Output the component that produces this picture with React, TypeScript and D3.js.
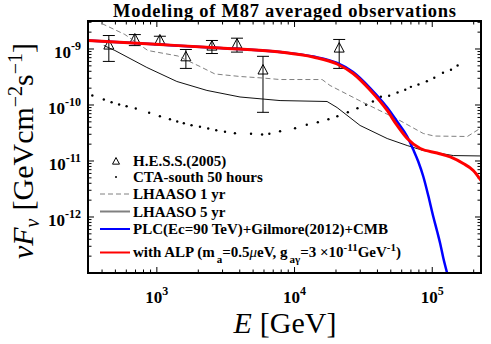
import React from 'react';
import * as d3 from 'd3';

const WIDTH = 491;
const HEIGHT = 344;
const margin = { top: 21, right: 10, bottom: 71, left: 88 };
const innerW = WIDTH - margin.left - margin.right;
const innerH = HEIGHT - margin.top - margin.bottom;

// H.E.S.S. (2005) averaged points, GeV and GeV cm^-2 s^-1
const hessE = [448, 692, 1052, 1625, 2512, 3820, 5900, 21100];
const hessF = [1.2e-9, 1.54e-9, 1.48e-9, 7.4e-10, 1.15e-9, 1.25e-9, 4.3e-10, 1.06e-9];
const hessHi = [1.74e-9, 1.81e-9, 1.69e-9, 9.8e-10, 1.42e-9, 1.56e-9, 7.4e-10, 1.48e-9];
const hessLo = [6.0e-10, 1.15e-9, 1.19e-9, 4.5e-10, 8.3e-10, 8.8e-10, 7.4e-11, 4.5e-10];

// CTA-south 50 hours sensitivity (dots)
const ctaE = [340, 412, 469, 532, 603, 703, 879, 1052, 1245, 1406, 1570, 1786, 2056, 2360, 2700, 3126, 3690, 4830, 5810, 6560, 7850, 10090, 12270, 14760, 17620, 20460, 24380, 28640, 33110, 37070, 42360, 48640, 55980, 63680, 69980, 79430, 91410, 103500, 119700, 136800, 152800];
const ctaF = [1.48e-10, 1.25e-10, 1.12e-10, 1.02e-10, 9.5e-11, 8.66e-11, 7.26e-11, 6.31e-11, 5.57e-11, 5.07e-11, 4.73e-11, 4.36e-11, 4.08e-11, 3.8e-11, 3.55e-11, 3.32e-11, 3.13e-11, 3.06e-11, 2.97e-11, 3.06e-11, 3.4e-11, 3.85e-11, 4.43e-11, 4.93e-11, 5.57e-11, 6.31e-11, 7.43e-11, 8.77e-11, 1.01e-10, 1.155e-10, 1.4e-10, 1.46e-10, 1.67e-10, 1.87e-10, 2.11e-10, 2.32e-10, 2.66e-10, 3.06e-10, 3.76e-10, 4.26e-10, 5.07e-10];

// LHAASO 1 yr sensitivity (dashed)
const lhaaso1E = [398, 585, 861, 1422, 2056, 2642, 4018, 5900, 7850, 15850, 18110, 31470, 55590, 86100, 103500, 179900, 226000];
const lhaaso1F = [2.85e-9, 1.82e-9, 9.4e-10, 7.5e-10, 4.87e-10, 3.58e-10, 3.23e-10, 3.03e-10, 2.85e-10, 2.85e-10, 2.23e-10, 1.11e-10, 5.62e-11, 3.1e-11, 2.79e-11, 2.74e-11, 3.9e-11];

// LHAASO 5 yr sensitivity (solid)
const lhaaso5E = [412, 496, 846, 1397, 2310, 4018, 7850, 17220, 20370, 29920, 47070, 65790, 86100, 142200, 226000];
const lhaaso5F = [1.155e-9, 9.4e-10, 4.68e-10, 2.63e-10, 1.82e-10, 1.39e-10, 1.2e-10, 1.155e-10, 9.0e-11, 4.31e-11, 2.52e-11, 1.89e-11, 1.54e-11, 1.25e-11, 1.23e-11];

// PLC (Ec = 90 TeV) + Gilmore(2012) + CMB
const plcE = [316, 1052, 2871, 7850, 13650, 20370, 26610, 35370, 47070, 55590, 65790, 72780, 79130, 86100, 93540, 101700, 108600, 114200, 120100, 128500];
const plcF = [1.42e-9, 1.2e-9, 1.04e-9, 8.84e-10, 7.34e-10, 5.62e-10, 3.88e-10, 2.01e-10, 9.0e-11, 5.07e-11, 2.74e-11, 1.6e-11, 9.8e-12, 5.29e-12, 2.42e-12, 1.02e-12, 5.51e-13, 3.36e-13, 1.89e-13, 9.8e-14];

// with ALP
const alpE = [316, 1052, 2871, 7850, 13650, 20370, 26610, 35370, 47070, 55590, 65790, 81850, 108600, 135200, 167900, 198600, 226000];
const alpF = [1.42e-9, 1.2e-9, 1.04e-9, 8.84e-10, 7.19e-10, 5.4e-10, 3.65e-10, 1.85e-10, 7.98e-11, 4.31e-11, 2.52e-11, 1.67e-11, 1.39e-11, 1.18e-11, 9.0e-12, 6.77e-12, 4.49e-12];

const xTickLabels = ['3', '4', '5'];
const yTickLabels = ['-9', '-10', '-11', '-12'];

const serif = '"Liberation Serif", "Times New Roman", serif';

const x = d3.scaleLog().domain([316.2, 2.26e5]).range([0, innerW]);
const y = d3.scaleLog().domain([1e-13, 3.162e-9]).range([innerH, 0]);

const zip = (a: number[], b: number[]) => a.map((v, i) => [v, b[i]] as [number, number]);

const lineLin = d3.line<[number, number]>().x(d => x(d[0])).y(d => y(d[1]));
const lineSmooth = d3.line<[number, number]>().x(d => x(d[0])).y(d => y(d[1])).curve(d3.curveMonotoneX);

const isMajor = (v: number) => Math.abs(Math.log10(v) - Math.round(Math.log10(v))) < 1e-6;

const tri = (cx: number, cy: number, s: number) =>
  `M${cx},${cy - s * 0.5}L${cx + s * 0.5},${cy + s * 0.45}L${cx - s * 0.5},${cy + s * 0.45}Z`;

export default function App() {
  const xt = x.ticks();
  const yt = y.ticks();
  const xMajors = [1e3, 1e4, 1e5];
  const yMajors = [1e-9, 1e-10, 1e-11, 1e-12];

  return (
    <svg width={WIDTH} height={HEIGHT} style={{ position: 'absolute', left: 0, top: 0, background: '#fff' }}
      fontFamily={serif}>
      <defs>
        <clipPath id="plot">
          <rect x={0} y={0} width={innerW} height={innerH} />
        </clipPath>
      </defs>
      <text x={margin.left + innerW / 2} y={16.5} textAnchor="middle" fontSize={18.5} fontWeight="bold"
        textLength={343} lengthAdjust="spacing">
        Modeling of M87 averaged observations
      </text>
      <g transform={`translate(${margin.left},${margin.top})`}>
        {/* ticks, all four sides */}
        {xt.map((v, i) => {
          const len = isMajor(v) ? 6 : 3.5;
          return (
            <g key={'xt' + i} stroke="#000" strokeWidth={1}>
              <line x1={x(v)} x2={x(v)} y1={innerH} y2={innerH - len} />
              <line x1={x(v)} x2={x(v)} y1={0} y2={len} />
            </g>
          );
        })}
        {yt.map((v, i) => {
          const len = isMajor(v) ? 6 : 3.5;
          return (
            <g key={'yt' + i} stroke="#000" strokeWidth={1}>
              <line x1={0} x2={len} y1={y(v)} y2={y(v)} />
              <line x1={innerW} x2={innerW - len} y1={y(v)} y2={y(v)} />
            </g>
          );
        })}

        <g clipPath="url(#plot)">
          {/* H.E.S.S. points */}
          {hessE.map((e, i) => {
            const cx = x(e);
            return (
              <g key={'h' + i} stroke="#000" strokeWidth={1} fill="none">
                <line x1={cx} x2={cx} y1={y(hessHi[i])} y2={y(hessLo[i])} />
                <line x1={cx - 6} x2={cx + 6} y1={y(hessHi[i])} y2={y(hessHi[i])} />
                <line x1={cx - 6} x2={cx + 6} y1={y(hessLo[i])} y2={y(hessLo[i])} />
                <path d={tri(cx, y(hessF[i]), 10)} />
              </g>
            );
          })}
          {ctaE.map((e, i) => (
            <circle key={'c' + i} cx={x(e)} cy={y(ctaF[i])} r={1.2} fill="#000" />
          ))}
          <path d={lineLin(zip(lhaaso1E, lhaaso1F)) || ''} fill="none" stroke="#808080" strokeWidth={1} strokeDasharray="5,3" />
          <path d={lineLin(zip(lhaaso5E, lhaaso5F)) || ''} fill="none" stroke="#111" strokeWidth={1} />
          <path d={lineSmooth(zip(plcE, plcF)) || ''} fill="none" stroke="#0000ff" strokeWidth={2.5} />
          <path d={lineSmooth(zip(alpE, alpF)) || ''} fill="none" stroke="#ff0000" strokeWidth={3} />
        </g>

        <rect x={0} y={0} width={innerW} height={innerH} fill="none" stroke="#000" strokeWidth={2} />

        {/* tick labels */}
        {xMajors.map((v, i) => (
          <text key={'xl' + i} x={x(v)} y={innerH + 30} textAnchor="middle" fontSize={17} fontWeight="bold">
            10<tspan dy={-8} fontSize={12}>{xTickLabels[i]}</tspan>
          </text>
        ))}
        {yMajors.map((v, i) => (
          <text key={'yl' + i} x={-7} y={y(v) + 9} textAnchor="end" fontSize={17} fontWeight="bold">
            10<tspan dy={-8} fontSize={12}>{yTickLabels[i]}</tspan>
          </text>
        ))}

        {/* legend */}
        <g fontSize={15} fontWeight="bold">
          <path d={tri(28, 140, 7)} fill="none" stroke="#000" strokeWidth={1} />
          <text x={45} y={145}>H.E.S.S.(2005)</text>
          <circle cx={28} cy={156} r={1} fill="#000" />
          <text x={45} y={161}>CTA-south 50 hours</text>
          <line x1={12} x2={42} y1={173} y2={173} stroke="#808080" strokeWidth={1} strokeDasharray="5,3" />
          <text x={45} y={178}>LHAASO 1 yr</text>
          <line x1={12} x2={42} y1={190.5} y2={190.5} stroke="#808080" strokeWidth={2} />
          <text x={45} y={195.5}>LHAASO 5 yr</text>
          <line x1={12} x2={42} y1={208} y2={208} stroke="#0000ff" strokeWidth={2} />
          <text x={45} y={213}>PLC(Ec=90 TeV)+Gilmore(2012)+CMB</text>
          <line x1={12} x2={42} y1={231.5} y2={231.5} stroke="#ff0000" strokeWidth={2} />
          <text x={45} y={236}>
            with ALP (m<tspan dx={2} dy={6} fontSize={11}>a</tspan>
            <tspan dy={-6}>=0.5</tspan>
            <tspan fontStyle="italic" fontWeight="normal">μ</tspan>
            <tspan>eV, g</tspan>
            <tspan dx={2} dy={6} fontSize={11}>aγ</tspan>
            <tspan dy={-6}>=3 ×10</tspan>
            <tspan dy={-6} fontSize={11}>-11</tspan>
            <tspan dy={6}>GeV</tspan>
            <tspan dy={-6} fontSize={11}>-1</tspan>
            <tspan dy={6}>)</tspan>
          </text>
        </g>
      </g>

      {/* axis labels */}
      <text x={285} y={333} textAnchor="middle" fontSize={30}>
        <tspan fontStyle="italic">E</tspan>
        <tspan dx={8}>[GeV]</tspan>
      </text>
      <text transform="translate(33,151) rotate(-90)" textAnchor="middle" fontSize={30}>
        <tspan fontStyle="italic">νF</tspan>
        <tspan fontStyle="italic" fontSize={20} dy={6}>ν</tspan>
        <tspan dx={8} dy={-6}>[GeVcm</tspan>
        <tspan fontSize={20} dy={-11}>−2</tspan>
        <tspan dy={11}>s</tspan>
        <tspan fontSize={20} dy={-11}>−1</tspan>
        <tspan dy={11}>]</tspan>
      </text>
    </svg>
  );
}
